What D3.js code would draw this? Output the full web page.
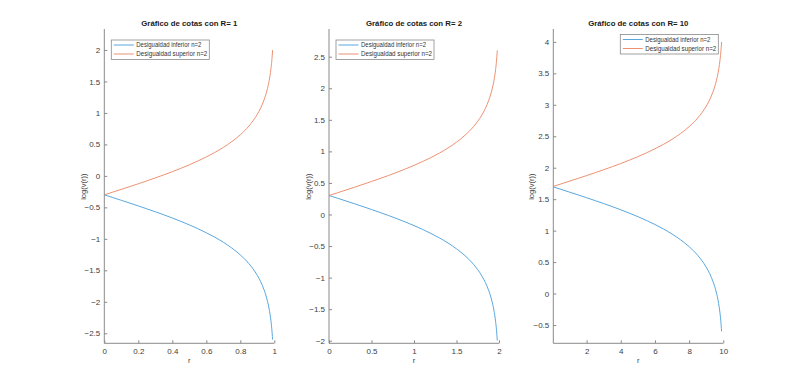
<!DOCTYPE html>
<html>
<head>
    <title>Gráfico de cotas</title>
    <script src="https://d3js.org/d3.v7.min.js"></script>
    <style>
        body { margin: 0; background: #fff; }
        svg { font-family: "Liberation Sans", Arial, sans-serif; }
        .tick text { font-size: 8px; fill: #404040; }
        .tick line, .domain { stroke: #8a8a8a; }
        .title { font-size: 7.8px; font-weight: bold; fill: #1a1a1a; }
        .axis-label { font-size: 7.5px; fill: #404040; }
        .legend text { font-size: 6.6px; fill: #333; }
    </style>
</head>
<body>
    <svg width="800" height="386"></svg>
    <script>
        // r values and bounds log(v(r)) for each R
        var rR1 = [0, 0.05, 0.1, 0.15, 0.2, 0.25, 0.3, 0.35, 0.4, 0.45, 0.5, 0.55, 0.6, 0.65, 0.7, 0.75, 0.8, 0.85, 0.9, 0.92, 0.94, 0.95, 0.96, 0.97, 0.98, 0.985, 0.99];
        var lowerR1 = [-0.301, -0.344, -0.388, -0.432, -0.477, -0.523, -0.570, -0.618, -0.669, -0.722, -0.778, -0.838, -0.903, -0.974, -1.054, -1.146, -1.255, -1.392, -1.580, -1.681, -1.811, -1.892, -1.991, -2.118, -2.297, -2.423, -2.600];
        var upperR1 = [-0.301, -0.258, -0.214, -0.170, -0.125, -0.079, -0.032, 0.016, 0.067, 0.120, 0.176, 0.236, 0.301, 0.372, 0.452, 0.544, 0.653, 0.790, 0.978, 1.079, 1.209, 1.290, 1.389, 1.516, 1.695, 1.821, 1.998];

        var rR2 = [0, 0.1, 0.2, 0.3, 0.4, 0.5, 0.6, 0.7, 0.8, 0.9, 1.0, 1.1, 1.2, 1.3, 1.4, 1.5, 1.6, 1.7, 1.8, 1.84, 1.88, 1.9, 1.92, 1.94, 1.96, 1.97, 1.98];
        var lowerR2 = [0.301, 0.258, 0.214, 0.170, 0.125, 0.079, 0.032, -0.016, -0.067, -0.120, -0.176, -0.236, -0.301, -0.372, -0.452, -0.544, -0.653, -0.790, -0.978, -1.079, -1.209, -1.290, -1.389, -1.516, -1.695, -1.821, -1.998];
        var upperR2 = [0.301, 0.344, 0.388, 0.432, 0.477, 0.523, 0.570, 0.618, 0.669, 0.722, 0.778, 0.838, 0.903, 0.974, 1.054, 1.146, 1.255, 1.392, 1.580, 1.681, 1.811, 1.892, 1.991, 2.118, 2.297, 2.423, 2.600];

        var rR10 = [0.05, 0.5, 1, 1.5, 2, 2.5, 3, 3.5, 4, 4.5, 5, 5.5, 6, 6.5, 7, 7.5, 8, 8.5, 9, 9.2, 9.4, 9.5, 9.6, 9.7, 9.8, 9.85, 9.9];
        var lowerR10 = [1.695, 1.656, 1.612, 1.568, 1.523, 1.477, 1.430, 1.382, 1.331, 1.278, 1.222, 1.162, 1.097, 1.026, 0.946, 0.854, 0.745, 0.608, 0.420, 0.319, 0.189, 0.108, 0.009, -0.118, -0.297, -0.423, -0.600];
        var upperR10 = [1.703, 1.742, 1.786, 1.830, 1.875, 1.921, 1.968, 2.016, 2.067, 2.120, 2.176, 2.236, 2.301, 2.372, 2.452, 2.544, 2.653, 2.790, 2.978, 3.079, 3.209, 3.290, 3.389, 3.516, 3.695, 3.821, 3.998];

        var xTicksR1 = [0, 0.2, 0.4, 0.6, 0.8, 1];
        var yTicksR1 = [-2.5, -2, -1.5, -1, -0.5, 0, 0.5, 1, 1.5, 2];
        var xTicksR2 = [0, 0.5, 1, 1.5, 2];
        var yTicksR2 = [-2, -1.5, -1, -0.5, 0, 0.5, 1, 1.5, 2, 2.5];
        var xTicksR10 = [2, 4, 6, 8, 10];
        var yTicksR10 = [-0.5, 0, 0.5, 1, 1.5, 2, 2.5, 3, 3.5, 4];

        var seriesNames = ["Desigualdad inferior n=2", "Desigualdad superior n=2"];
        var colors = ["#5aa7de", "#ec9172"];

        var panels = [
            {R: 1, r: rR1, lower: lowerR1, upper: upperR1, xTicks: xTicksR1, yTicks: yTicksR1,
             left: 104.3, xDomain: [0, 1], yDomain: [-2.659, 2.333], legend: "left"},
            {R: 2, r: rR2, lower: lowerR2, upper: upperR2, xTicks: xTicksR2, yTicks: yTicksR2,
             left: 329, xDomain: [0, 2], yDomain: [-2.041, 2.939], legend: "left"},
            {R: 10, r: rR10, lower: lowerR10, upper: upperR10, xTicks: xTicksR10, yTicks: yTicksR10,
             left: 553.3, xDomain: [0.05, 10], yDomain: [-0.791, 4.205], legend: "right"}
        ];

        var svg = d3.select("svg");
        var pw = 170, plotTop = 29, plotBottom = 343.3, ph = plotBottom - plotTop;

        panels.forEach(function(p, pi) {
            var g = svg.append("g").attr("transform", "translate(" + p.left + "," + plotTop + ")");
            var x = d3.scaleLinear().domain(p.xDomain).range([0, pw]);
            var y = d3.scaleLinear().domain(p.yDomain).range([ph, 0]);

            g.append("clipPath").attr("id", "clip" + pi)
                .append("rect").attr("width", pw).attr("height", ph);

            var line = d3.line()
                .x(function(d) { return x(d[0]); })
                .y(function(d) { return y(d[1]); })
                .curve(d3.curveMonotoneX);

            [p.lower, p.upper].forEach(function(vals, si) {
                g.append("path")
                    .datum(p.r.map(function(r, i) { return [r, vals[i]]; }))
                    .attr("clip-path", "url(#clip" + pi + ")")
                    .attr("fill", "none")
                    .attr("stroke", colors[si])
                    .attr("stroke-width", 1)
                    .attr("d", line);
            });

            g.append("g")
                .attr("transform", "translate(0," + ph + ")")
                .call(d3.axisBottom(x).tickValues(p.xTicks).tickSize(-3).tickPadding(5).tickFormat(d3.format("")))
                .call(function(a) { a.select(".domain").attr("d", "M0,0H" + pw); });

            g.append("g")
                .call(d3.axisLeft(y).tickValues(p.yTicks).tickSize(-3).tickPadding(4).tickFormat(d3.format("")))
                .call(function(a) { a.select(".domain").attr("d", "M0," + ph + "V0"); });

            g.append("text")
                .attr("class", "title")
                .attr("x", pw / 2)
                .attr("y", -3)
                .attr("text-anchor", "middle")
                .text("Gráfico de cotas con R= " + p.R);

            g.append("text")
                .attr("class", "axis-label")
                .attr("x", pw / 2)
                .attr("y", ph + 20)
                .attr("text-anchor", "middle")
                .text("r");

            g.append("text")
                .attr("class", "axis-label")
                .attr("transform", "rotate(-90)")
                .attr("x", -(186.7 - plotTop))
                .attr("y", pi === 2 ? -19 : -18)
                .attr("text-anchor", "middle")
                .text("log(v(r))");

            // Legend
            var lw = 98, lh = 19.5;
            var lx = p.legend === "left" ? 7 : pw - lw - 5;
            var ly = p.legend === "left" ? 11 : 5.5;
            var legend = g.append("g").attr("class", "legend")
                .attr("transform", "translate(" + lx + "," + ly + ")");
            legend.append("rect")
                .attr("width", lw).attr("height", lh)
                .attr("fill", "#fff").attr("stroke", "#8a8a8a").attr("stroke-width", 0.8);
            seriesNames.forEach(function(name, i) {
                var row = legend.append("g").attr("transform", "translate(0," + (5 + i * 9) + ")");
                row.append("line")
                    .attr("x1", 2.5).attr("x2", 22.5)
                    .attr("stroke", colors[i]).attr("stroke-width", 1);
                row.append("text")
                    .attr("x", 25).attr("dy", "0.35em")
                    .attr("textLength", i === 0 ? 65 : 71)
                    .attr("lengthAdjust", "spacingAndGlyphs")
                    .text(name);
            });
        });
    </script>
</body>
</html>
